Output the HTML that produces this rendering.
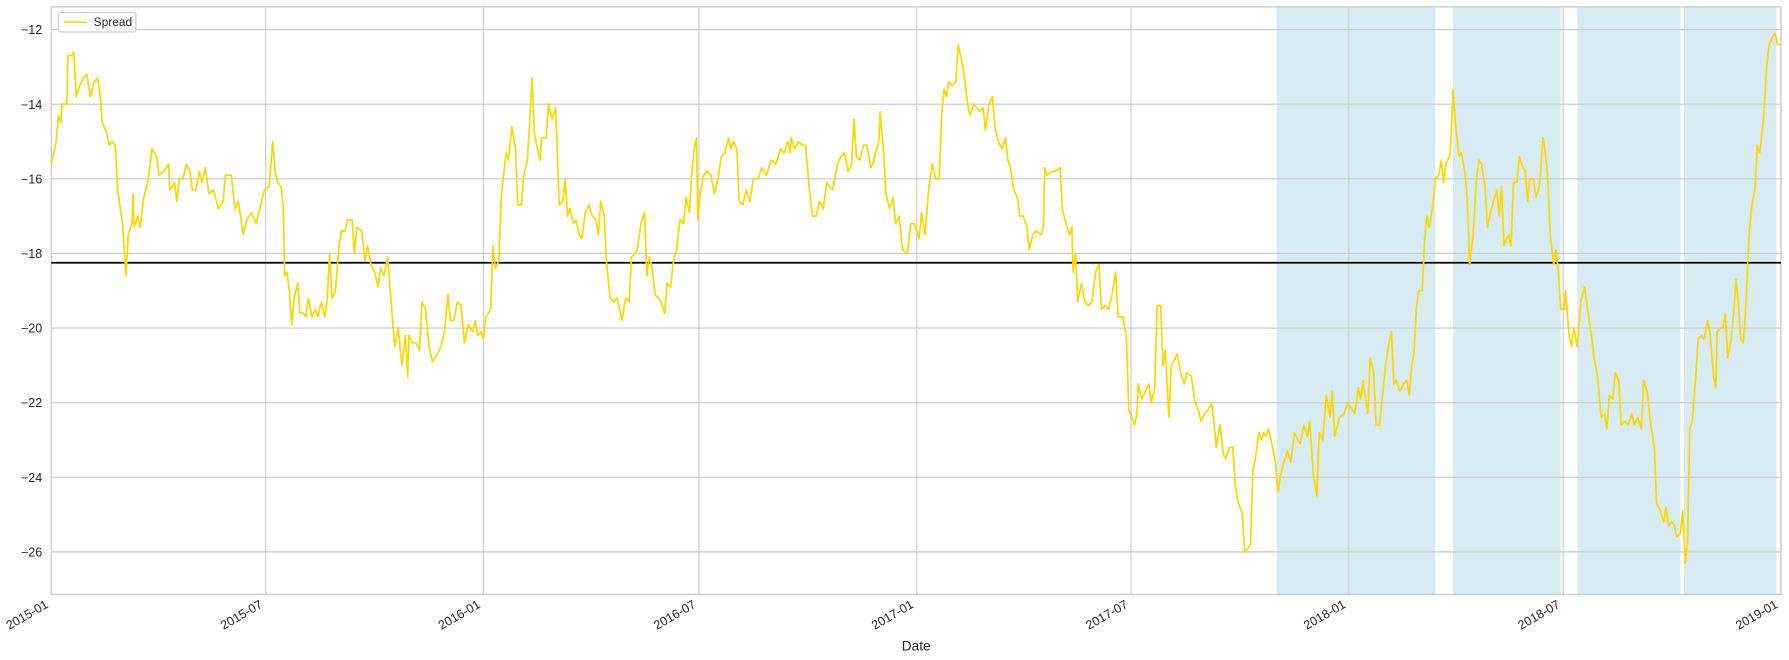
<!DOCTYPE html>
<html><head><meta charset="utf-8"><style>
body{margin:0;background:#fff;}
svg{display:block;font-family:"Liberation Sans","DejaVu Sans",sans-serif;}
</style></head><body>
<svg id="chart" width="1789" height="660" viewBox="0 0 1568 578.5" xmlns="http://www.w3.org/2000/svg"></svg>
<script>
// data: days since 2015-01-01, spread values
const dayOffsets=[0,4,6,8,9,13,14,17,19,21,24,27,30,33,36,39,41,43,46,49,51,54,56,60,63,65,68,69,70,73,75,78,82,85,89,91,95,99,100,104,106,108,111,114,117,119,122,125,127,130,133,137,141,145,147,152,155,158,162,165,169,173,176,180,184,187,189,191,194,196,197,199,201,203,205,208,210,213,215,217,220,223,225,228,231,233,235,237,240,243,245,248,250,254,256,258,262,265,267,270,273,276,278,281,284,287,290,293,296,299,301,302,305,308,311,313,316,319,322,326,329,332,335,337,340,343,346,349,352,356,358,360,363,365,367,371,373,375,378,380,384,386,389,392,394,397,399,402,404,406,408,410,413,414,418,420,423,426,429,432,434,436,438,441,443,446,448,451,454,457,460,462,464,467,469,472,475,478,482,485,488,490,493,495,498,501,503,505,507,510,513,515,518,520,523,525,528,531,534,536,539,541,543,545,546,548,551,554,557,560,563,566,569,572,574,576,579,581,584,587,590,593,597,600,604,608,612,616,619,622,624,625,628,631,634,637,640,643,646,649,652,655,657,660,664,667,670,673,676,678,680,683,686,689,692,694,697,699,700,703,705,708,711,713,716,719,723,726,729,733,735,738,741,744,747,750,752,754,756,758,761,764,766,768,771,774,776,779,782,784,787,789,792,795,797,800,803,806,808,810,813,816,818,821,824,826,829,832,836,838,839,841,845,848,852,854,857,860,862,863,865,867,870,873,876,879,882,885,887,890,893,896,899,901,905,908,910,913,915,917,918,921,924,927,929,932,934,937,939,941,944,946,948,951,954,957,959,963,966,969,971,974,977,980,982,984,987,990,992,995,998,1000,1002,1004,1006,1008,1011,1013,1015,1017,1020,1022,1024,1026,1028,1031,1034,1036,1038,1041,1044,1047,1050,1053,1055,1058,1061,1063,1066,1069,1071,1074,1077,1080,1082,1084,1088,1092,1095,1099,1101,1104,1106,1108,1110,1112,1114,1117,1119,1122,1125,1127,1130,1132,1134,1136,1139,1142,1145,1147,1149,1151,1153,1155,1158,1160,1162,1164,1167,1169,1172,1174,1176,1178,1181,1182,1184,1186,1189,1191,1194,1196,1198,1201,1204,1206,1208,1211,1213,1215,1218,1221,1223,1225,1227,1229,1231,1233,1235,1238,1240,1243,1245,1247,1249,1252,1254,1257,1260,1262,1264,1266,1269,1271,1273,1275,1278,1279,1282,1284,1286,1289,1292,1295,1298,1301,1303,1306,1309,1312,1314,1316,1319,1321,1324,1326,1329,1332,1335,1337,1340,1343,1345,1348,1351,1354,1356,1359,1362,1364,1366,1369,1371,1373,1376,1378,1380,1382,1384,1386,1389,1391,1394,1396,1399,1401,1404,1406,1407,1410,1412,1414,1416,1419,1421,1423,1425,1427,1429,1431,1434,1436,1439,1441,1443,1446,1449,1451,1454,1456,1458,1461];
const spread=[-15.6,-15.0,-14.3,-14.5,-14.0,-14.0,-12.7,-12.7,-12.6,-13.8,-13.5,-13.3,-13.2,-13.8,-13.4,-13.3,-13.7,-14.5,-14.7,-15.1,-15.0,-15.1,-16.3,-17.2,-18.6,-17.5,-17.2,-16.4,-17.3,-17.0,-17.3,-16.5,-16.0,-15.2,-15.4,-15.9,-15.8,-15.6,-16.3,-16.1,-16.6,-16.0,-16.0,-15.6,-15.8,-16.3,-16.3,-15.8,-16.1,-15.7,-16.4,-16.3,-16.8,-16.6,-15.9,-15.9,-16.8,-16.6,-17.5,-17.1,-16.9,-17.2,-16.8,-16.3,-16.2,-15.0,-15.8,-16.1,-16.2,-16.8,-18.6,-18.5,-19.0,-19.9,-19.2,-18.8,-19.6,-19.6,-19.7,-19.2,-19.7,-19.5,-19.7,-19.3,-19.7,-19.2,-18.0,-19.2,-19.0,-17.8,-17.4,-17.4,-17.1,-17.1,-18.0,-17.3,-17.4,-18.2,-17.8,-18.3,-18.5,-18.9,-18.4,-18.6,-18.1,-19.3,-20.5,-20.0,-21.0,-20.2,-21.3,-20.2,-20.4,-20.4,-20.6,-19.3,-19.5,-20.5,-20.9,-20.7,-20.5,-20.1,-19.1,-19.8,-19.8,-19.3,-19.4,-20.4,-19.9,-20.1,-19.8,-20.2,-20.1,-20.3,-19.7,-19.5,-17.8,-18.4,-18.2,-16.5,-15.3,-15.5,-14.6,-15.2,-16.7,-16.7,-15.9,-15.5,-14.5,-13.3,-14.8,-15.1,-15.5,-14.9,-14.9,-14.0,-14.4,-14.1,-16.7,-16.6,-16.0,-17.0,-16.8,-17.2,-17.1,-17.5,-17.6,-16.9,-16.7,-17.0,-17.1,-17.5,-16.6,-17.0,-18.3,-19.2,-19.3,-19.2,-19.8,-19.2,-19.3,-18.1,-18.0,-17.9,-17.2,-16.9,-18.6,-18.1,-18.3,-19.1,-19.2,-19.3,-19.6,-18.8,-18.9,-18.3,-17.9,-17.1,-17.2,-16.5,-16.9,-15.8,-15.2,-14.9,-17.1,-16.4,-15.9,-15.8,-15.9,-16.4,-16.0,-15.4,-15.3,-14.9,-15.2,-15.0,-15.2,-16.6,-16.7,-16.3,-16.6,-16.0,-16.0,-15.7,-15.9,-15.5,-15.6,-15.2,-15.3,-15.0,-15.3,-14.9,-15.2,-15.0,-15.1,-15.1,-16.2,-17.0,-17.0,-16.6,-16.8,-16.1,-16.2,-16.3,-15.6,-15.4,-15.3,-15.8,-15.6,-14.4,-15.4,-15.5,-15.1,-15.1,-15.7,-15.6,-15.2,-15.0,-14.2,-15.3,-16.4,-16.8,-16.5,-17.2,-17.0,-17.9,-18.0,-17.2,-17.2,-17.6,-16.9,-17.5,-16.3,-15.6,-16.0,-16.0,-14.3,-13.6,-13.8,-13.4,-13.5,-13.4,-12.4,-12.7,-13.2,-14.0,-14.3,-14.0,-14.1,-14.2,-14.1,-14.7,-14.0,-13.8,-14.6,-15.0,-15.2,-14.9,-15.5,-15.7,-16.3,-16.5,-17.0,-17.0,-17.3,-17.9,-17.5,-17.4,-17.5,-17.3,-15.7,-15.9,-15.8,-15.8,-15.7,-16.8,-17.2,-17.5,-17.3,-18.5,-18.0,-19.3,-18.8,-19.3,-19.4,-19.3,-18.5,-18.3,-19.5,-19.4,-19.5,-19.1,-18.5,-19.7,-19.7,-20.2,-22.2,-22.4,-22.6,-22.3,-21.5,-21.9,-21.7,-21.5,-22.0,-21.6,-19.4,-19.4,-21.0,-20.6,-22.4,-21.0,-20.9,-20.7,-21.2,-21.5,-21.2,-21.3,-22.0,-22.2,-22.5,-22.3,-22.2,-22.0,-22.5,-23.2,-22.6,-23.4,-23.5,-23.2,-23.2,-24.2,-24.6,-24.8,-25.0,-26.0,-25.9,-25.8,-23.8,-23.5,-22.8,-23.0,-22.8,-22.9,-22.7,-23.1,-23.6,-24.4,-24.0,-23.6,-23.3,-23.6,-22.8,-23.0,-23.1,-22.6,-22.9,-22.5,-23.9,-24.5,-22.8,-23.0,-21.8,-22.4,-21.7,-22.9,-22.4,-22.3,-22.0,-22.2,-22.3,-21.6,-21.9,-21.4,-21.9,-22.3,-20.8,-21.2,-22.6,-22.6,-21.6,-21.0,-20.4,-20.1,-21.5,-21.4,-21.7,-21.5,-21.4,-21.8,-21.0,-20.7,-19.5,-19.0,-19.0,-17.6,-17.0,-17.3,-16.7,-16.0,-15.9,-15.5,-16.1,-15.6,-15.4,-15.1,-13.6,-14.5,-15.4,-15.3,-15.8,-16.5,-18.3,-17.5,-15.9,-15.5,-15.6,-16.2,-17.3,-17.0,-16.6,-16.3,-17.0,-16.2,-17.8,-17.6,-17.5,-17.8,-16.1,-16.1,-15.4,-15.7,-15.8,-16.6,-16.0,-16.0,-16.5,-16.2,-14.9,-15.3,-16.0,-17.5,-18.3,-17.9,-18.5,-19.5,-19.5,-19.0,-20.2,-20.5,-20.0,-20.5,-19.3,-18.9,-19.6,-20.2,-20.8,-21.3,-22.4,-22.3,-22.7,-21.8,-21.9,-21.2,-21.4,-22.6,-22.5,-22.6,-22.3,-22.6,-22.4,-22.7,-21.4,-21.7,-22.6,-23.2,-24.7,-24.9,-25.2,-24.8,-25.3,-25.2,-25.3,-25.6,-25.5,-24.9,-26.3,-25.8,-22.7,-22.5,-21.3,-20.3,-20.2,-20.3,-19.8,-20.1,-21.3,-21.6,-20.1,-20.0,-20.0,-19.6,-20.8,-20.3,-19.6,-18.7,-19.3,-20.3,-20.4,-19.6,-17.5,-16.8,-16.3,-15.1,-15.3,-14.5,-13.0,-12.4,-12.2,-12.1,-12.4,-12.4];
const meanLevel=-18.25;
const shadeStarts=[1035,1184,1289,1379];
const shadeEnds=[1169,1275,1376,1457];
const yTicks=[-26,-24,-22,-20,-18,-16,-14,-12];
const xTickDays=[0,181,365,547,731,912,1096,1277,1461];
const xTickLabels=["2015-01","2015-07","2016-01","2016-07","2017-01","2017-07","2018-01","2018-07","2019-01"];

const L=45,R=1561,T=6,B=521;
const dMin=0,dMax=1461,vMin=-27.14,vMax=-11.39;
const xs=d=>L+(d-dMin)/(dMax-dMin)*(R-L);
const ys=v=>B-(v-vMin)/(vMax-vMin)*(B-T);
const svg=document.getElementById('chart');
const NS='http://www.w3.org/2000/svg';
function mk(tag,attrs,parent){const e=document.createElementNS(NS,tag);for(const k in attrs)e.setAttribute(k,attrs[k]);(parent||svg).appendChild(e);return e;}

for(let i=0;i<shadeStarts.length;i++){
  const r=mk('rect',{x:xs(shadeStarts[i]),y:T,width:xs(shadeEnds[i])-xs(shadeStarts[i]),height:B-T,fill:'#add8e6','fill-opacity':0.5});
  
  
}
yTicks.forEach(v=>{
  const g=mk('line',{x1:L,x2:R,y1:ys(v),y2:ys(v),stroke:'#cccccc','stroke-width':1});
  
  
  const t=mk('text',{x:L-8,y:ys(v)+4,'text-anchor':'end','font-size':11,fill:'#262626'});
  t.textContent='\u2212'+Math.abs(v);
  
  
});
xTickDays.forEach((d,i)=>{
  const g=mk('line',{x1:xs(d),x2:xs(d),y1:T,y2:B,stroke:'#cccccc','stroke-width':1});
  
  
  const t=mk('text',{x:xs(d)-2,y:B+11,'text-anchor':'end','font-size':11,fill:'#262626',transform:`rotate(-30 ${xs(d)-2} ${B+11})`});
  t.textContent=xTickLabels[i];
  
  
});
const frame=mk('rect',{x:L,y:T,width:R-L,height:B-T,fill:'none',stroke:'#cccccc','stroke-width':1.2});



const ml=mk('line',{x1:L,x2:R,y1:ys(meanLevel),y2:ys(meanLevel),stroke:'#000','stroke-width':1.5});



const pts=dayOffsets.map((d,i)=>xs(d).toFixed(1)+','+ys(spread[i]).toFixed(1)).join(' ');
const line=mk('polyline',{points:pts,fill:'none',stroke:'#ffd700','stroke-width':1.5,'stroke-linejoin':'round'});



const xl=mk('text',{x:(L+R)/2,y:570,'text-anchor':'middle','font-size':12,fill:'#262626'});
xl.textContent='Date';



const lg=mk('g',{});


mk('rect',{x:51,y:11,width:68,height:17,fill:'#fff',stroke:'#cccccc',rx:2},lg);
mk('line',{x1:56,x2:76,y1:19.5,y2:19.5,stroke:'#ffd700','stroke-width':1.5},lg);
const lt=mk('text',{x:82,y:23,'font-size':10.5,fill:'#262626'},lg);
lt.textContent='Spread';


</script>
</body></html>
